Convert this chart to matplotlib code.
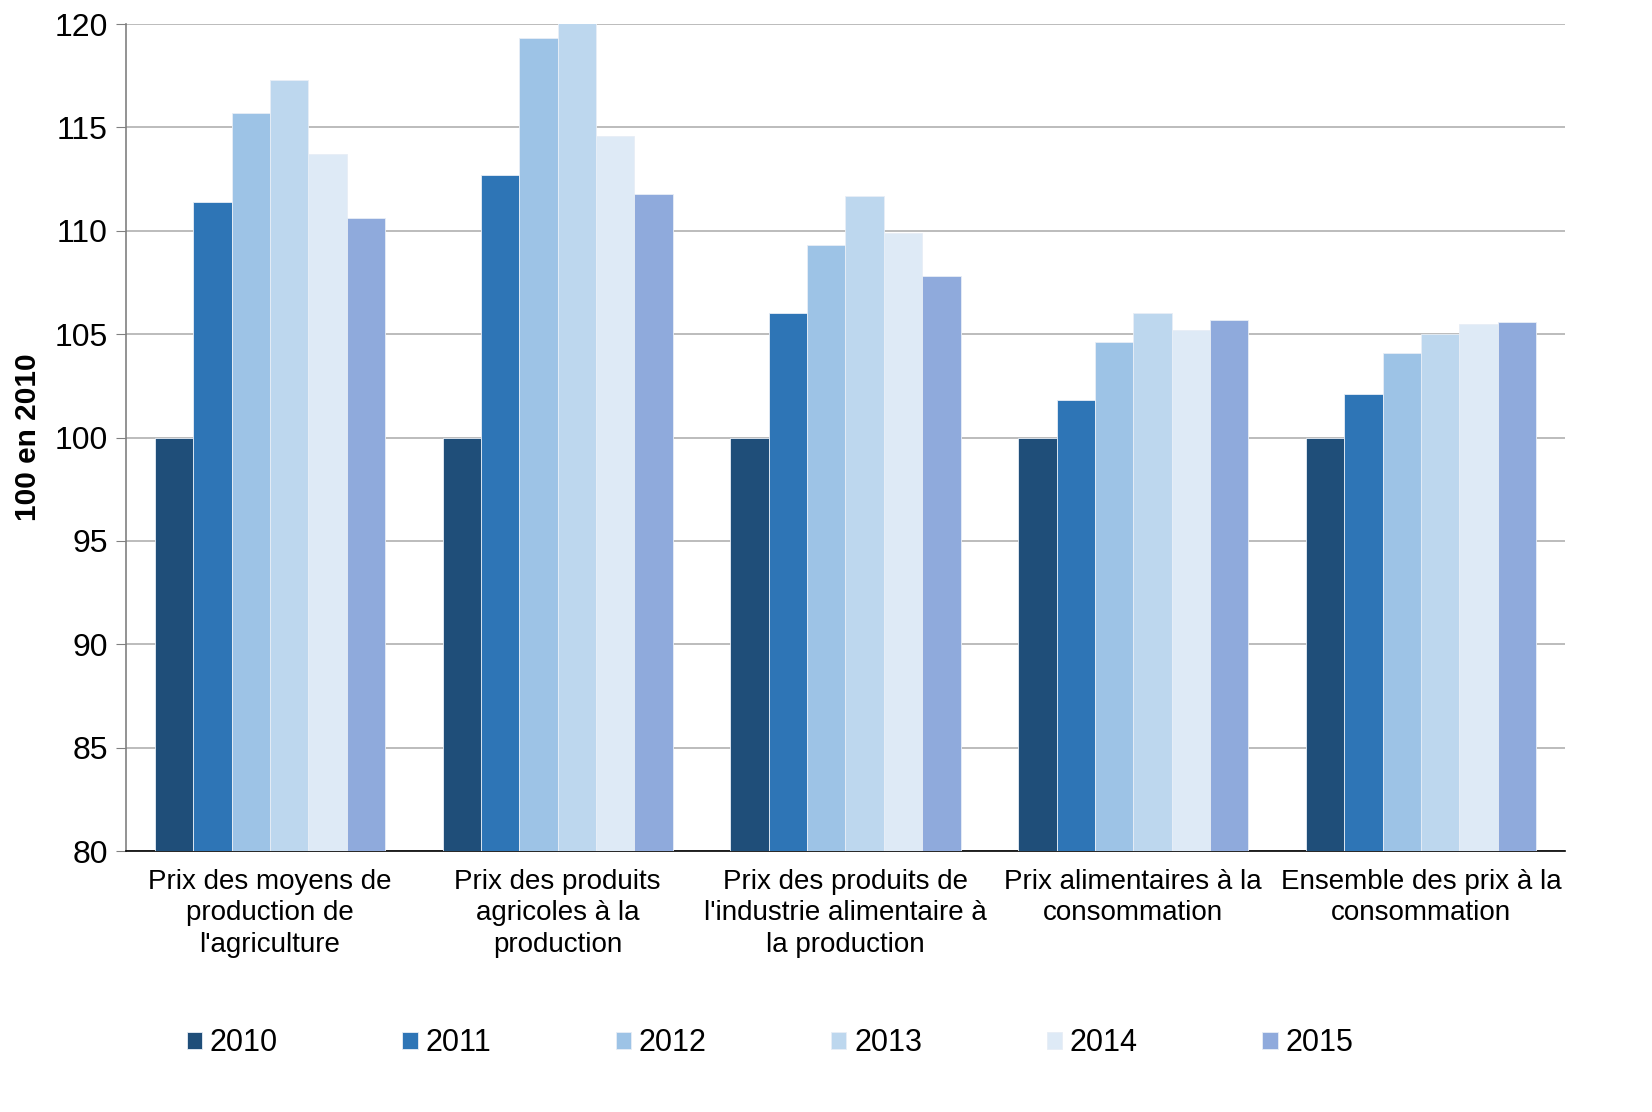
import numpy as np
import matplotlib.pyplot as plt

plt.rcParams['font.family'] = ['Liberation Sans', 'DejaVu Sans']

categories = ["Prix des moyens de\nproduction de\nl'agriculture",
              "Prix des produits\nagricoles à la\nproduction",
              "Prix des produits de\nl'industrie alimentaire à\nla production",
              "Prix alimentaires à la\nconsommation",
              "Ensemble des prix à la\nconsommation"]
years = ['2010', '2011', '2012', '2013', '2014', '2015']

v2010 = [100, 100, 100, 100, 100]
v2011 = [111.4, 112.7, 106.0, 101.8, 102.1]
v2012 = [115.7, 119.3, 109.3, 104.6, 104.1]
v2013 = [117.3, 120.2, 111.7, 106.0, 105.0]
v2014 = [113.7, 114.6, 109.9, 105.2, 105.5]
v2015 = [110.6, 111.8, 107.8, 105.7, 105.6]
series = [v2010, v2011, v2012, v2013, v2014, v2015]

colors = ['#1F4E79', '#2E75B6', '#9DC3E6', '#BDD7EE', '#DEEAF6', '#8FAADC']

fig = plt.figure(figsize=(16.52, 11.12), dpi=100)
ax = fig.add_axes([0.0763, 0.2347, 0.871, 0.7437])

x = np.arange(len(categories))
w = 0.8 / 6
for i, (yr, vals) in enumerate(zip(years, series)):
    ax.bar(x - 0.4 + w * (i + 0.5), np.array(vals) - 80, width=w, bottom=80,
           color=colors[i], edgecolor='#E8EEF6', linewidth=0.6, label=yr, zorder=3)

ax.set_ylim(80, 120)
ax.set_xlim(-0.5, len(categories) - 0.5)
ax.set_yticks(np.arange(80, 121, 5))
ax.yaxis.grid(True, color='#B0B0B0', linewidth=1.2, zorder=0)
ax.tick_params(axis='y', labelsize=23, length=7, color='#808080', direction='out', pad=6)
ax.set_xticks(x)
ax.set_xticklabels(categories, fontsize=20, linespacing=1.27)
ax.tick_params(axis='x', length=0, pad=13)
for s in ['top', 'right']:
    ax.spines[s].set_visible(False)
ax.spines['left'].set_color('#808080')
ax.spines['left'].set_linewidth(1.2)
ax.spines['bottom'].set_color('black')
ax.spines['bottom'].set_linewidth(1.2)

ax.set_ylabel('100 en 2010', fontsize=21.5, fontweight='bold', labelpad=9)

fig.legend(loc='center', bbox_to_anchor=(0.466, 0.062), ncol=6, frameon=False,
           fontsize=22, handlelength=0.5, handleheight=0.5, handletextpad=0.25,
           columnspacing=4.08)

fig.savefig('out.png', dpi=100)
